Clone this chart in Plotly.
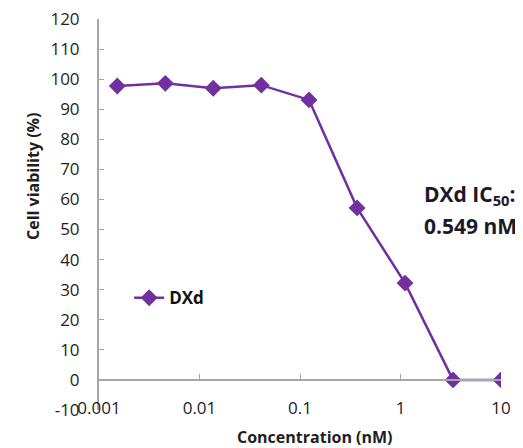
import plotly.graph_objects as go

concentration_nM = [0.00152, 0.00457, 0.0137, 0.0412, 0.123, 0.370, 1.11, 3.33, 10.0]
viability_pct = [97.7, 98.6, 97.0, 98.0, 93.1, 57.2, 32.2, 0.0, 0.0]
series_name = "DXd"
y_ticks = list(range(-10, 130, 10))
y_tick_labels = [str(v) for v in y_ticks]

purple = "#7030A0"
axis_gray = "#A6A6A6"
text_color = "#1e1e1e"
font_family = "Open Sans, Liberation Sans, sans-serif"

fig = go.Figure()
fig.add_trace(go.Scatter(
    x=concentration_nM, y=viability_pct, name=series_name,
    mode="lines+markers",
    line=dict(color=purple, width=2.5),
    marker=dict(symbol="diamond", size=13, color=purple),
))
# dummy trace so the zero-crossing axis is drawn
fig.add_trace(go.Scatter(
    x=concentration_nM, y=viability_pct, xaxis="x2", mode="markers",
    marker=dict(opacity=0), showlegend=False, hoverinfo="skip",
))

# page body has an 8px margin, so the figure is made 8px smaller on each side
fig.update_layout(
    width=515, height=440,
    margin=dict(l=91, r=22, t=11, b=38, autoexpand=False),
    plot_bgcolor="white", paper_bgcolor="white",
    font=dict(family=font_family, color=text_color, size=16),
    xaxis=dict(
        type="log", range=[-3, 1], dtick=1, automargin=False,
        showgrid=False, showline=False, zeroline=False, ticks="",
        tickfont=dict(size=17, color=text_color),
        ticklabelstandoff=-14, ticklabeloverflow="allow",
    ),
    xaxis2=dict(
        type="log", matches="x", overlaying="x", anchor="free",
        position=10 / 130, side="bottom", automargin=False,
        showline=True, linecolor=axis_gray, linewidth=2,
        ticks="inside", ticklen=5, tickcolor=axis_gray, tickwidth=1,
        showticklabels=False, showgrid=False, zeroline=False, dtick=1,
    ),
    yaxis=dict(
        range=[-10, 120], tickvals=y_ticks, ticktext=y_tick_labels,
        automargin=False,
        showgrid=False, zeroline=False,
        showline=True, linecolor=axis_gray, linewidth=2,
        ticks="inside", ticklen=5, tickcolor=axis_gray,
        tickfont=dict(size=17, color=text_color),
        ticklabelstandoff=14, ticklabeloverflow="allow",
    ),
    legend=dict(
        x=0.075, y=0.286, xanchor="left", yanchor="middle",
        bgcolor="rgba(0,0,0,0)",
        font=dict(size=17, color="#111111", weight="bold"),
        itemwidth=30,
    ),
    annotations=[
        dict(
            text="<b>DXd IC<sub>50</sub>:</b>",
            xref="paper", yref="paper", x=0.803, y=(410 - 195) / 391,
            xanchor="left", yanchor="middle", align="left",
            showarrow=False, font=dict(size=21, color="#1a1a2a"),
        ),
        dict(
            text="<b>0.549 nM</b>",
            xref="paper", yref="paper", x=0.803, y=(410 - 226) / 391,
            xanchor="left", yanchor="middle", align="left",
            showarrow=False, font=dict(size=21, color="#1a1a2a"),
        ),
        dict(
            text="<b>Cell viability (%)</b>",
            xref="paper", yref="paper", x=(33 - 99) / 402, y=(410 - 177) / 391,
            xanchor="center", yanchor="middle", textangle=-90,
            showarrow=False, font=dict(size=16, color=text_color),
        ),
        dict(
            text="<b>Concentration (nM)</b>",
            xref="paper", yref="paper", x=(315 - 99) / 402, y=(410 - 437) / 391,
            xanchor="center", yanchor="middle",
            showarrow=False, font=dict(size=16, color=text_color),
        ),
    ],
)

fig.write_html("out.html")
